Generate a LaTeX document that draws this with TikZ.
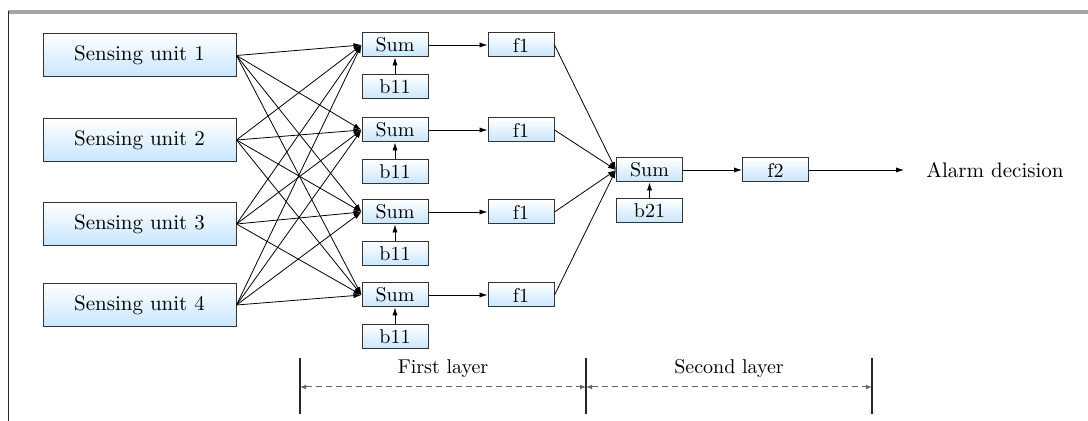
\documentclass[tikz,border=0pt]{standalone}
\usetikzlibrary{arrows.meta,positioning}
\begin{document}
\begin{tikzpicture}[x=0.5pt,y=-0.5pt,
  box/.style={draw=black!80, line width=0.5pt, top color=white, bottom color=blue!45!cyan!22,
    inner sep=0pt, font=\fontsize{10}{12}\selectfont},
  sensor/.style={box, minimum width=96.5pt, minimum height=21.5pt, font=\fontsize{10.5}{12}\selectfont},
  small/.style={box, minimum width=33pt, minimum height=12pt},
  conn/.style={line width=0.4pt, -{Latex[length=4pt,width=2.6pt]}},
  span/.style={densely dashed, black!60, line width=0.5pt, {Latex[length=3pt,width=2.4pt]}-{Latex[length=3pt,width=2.4pt]}},
  tick/.style={line width=0.7pt, black!85}]
\useasboundingbox (0,0) rectangle (1088,421);

% outer frame
\draw[black!35, line width=1.6pt] (8,12) -- (1088,12);
\draw[black!85, line width=0.8pt] (8.5,11) -- (8.5,421);

% sensing units
\foreach \i/\y in {1/55.5, 2/140, 3/224, 4/305}
  \node[sensor] (s\i) at (139.5,\y) {Sensing unit \i};

% first layer
\foreach \i/\y in {1/45, 2/130, 3/212, 4/295} {
  \node[small] (sum\i) at (395,\y) {Sum};
  \node[small] (b\i) at (395,\y+42) {b11};
  \node[small] (f\i) at (521,\y) {f1};
  \draw[conn] (b\i) -- (sum\i);
  \draw[conn] (sum\i) -- (f\i);
}

% full connections between sensing units and sums
\foreach \i in {1,...,4}
  \foreach \j in {1,...,4}
    \draw[conn] (s\i.east) -- (sum\j.west);

% second layer
\node[small] (sumo) at (649.5,170) {Sum};
\node[small] (bo) at (649.5,211) {b21};
\node[small] (fo) at (775.5,170) {f2};
\node[anchor=west, inner sep=0pt, font=\fontsize{10.5}{12}\selectfont] (alarm) at (926,170) {Alarm decision};

\foreach \i in {1,...,4}
  \draw[conn] (f\i.east) -- (sumo.west);
\draw[conn] (bo) -- (sumo);
\draw[conn] (sumo) -- (fo);
\draw[conn, shorten >=11pt] (fo) -- (alarm.west);

% layer spans
\coordinate (t1) at (300,358);
\coordinate (t1b) at (300,414);
\coordinate (t2) at (586,358);
\coordinate (t2b) at (586,414);
\coordinate (t3) at (872,358);
\coordinate (t3b) at (872,414);
\draw[tick] (t1) -- (t1b);
\draw[tick] (t2) -- (t2b);
\draw[tick] (t3) -- (t3b);
\coordinate (m1) at (300,387);
\coordinate (m2) at (586,387);
\coordinate (m3) at (872,387);
\draw[span] (m1) -- (m2);
\draw[span] (m2) -- (m3);
\node[font=\fontsize{10}{12}\selectfont] (l1) at (443,369) {First layer};
\node[font=\fontsize{10}{12}\selectfont] (l2) at (729,369) {Second layer};
\end{tikzpicture}
\end{document}
